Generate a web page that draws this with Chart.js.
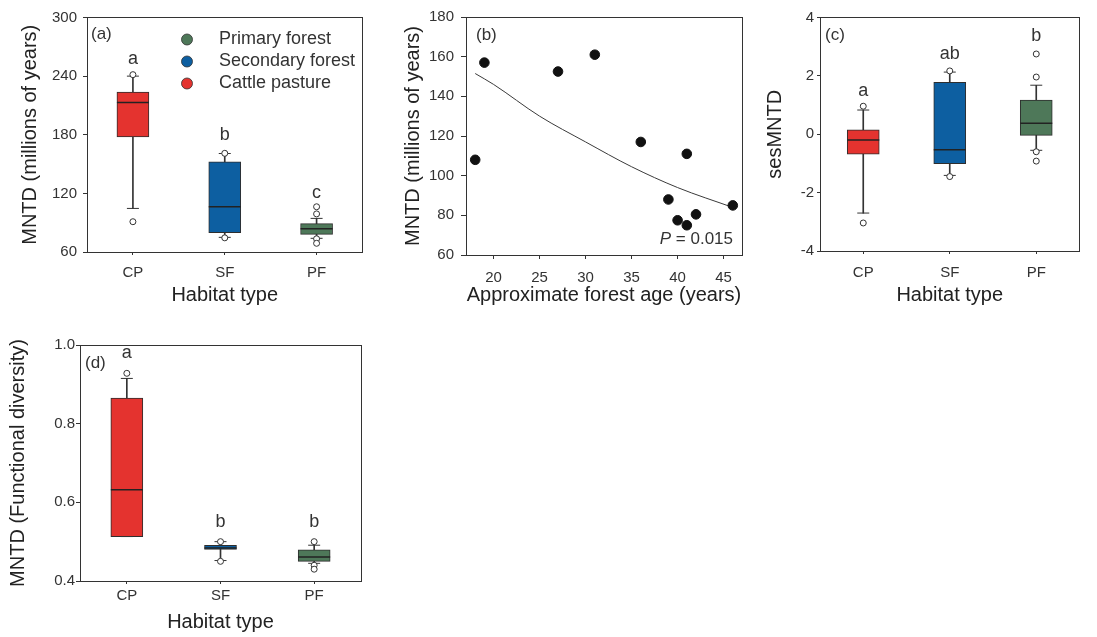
<!DOCTYPE html>
<html><head><meta charset="utf-8">
<script src="https://cdn.jsdelivr.net/npm/chart.js@4.4.0/dist/chart.umd.min.js"></script>
<style>
html,body{margin:0;padding:0;background:#fff;width:1097px;height:637px;overflow:hidden;position:relative}
canvas{position:absolute}
</style></head><body>
<canvas id="ca" width="380" height="315" style="left:0px;top:0px"></canvas>
<canvas id="cb" width="360" height="315" style="left:400px;top:0px"></canvas>
<canvas id="cc" width="337" height="315" style="left:760px;top:0px"></canvas>
<canvas id="cd" width="380" height="317" style="left:0px;top:320px"></canvas>
<script>
// ---------- shared ----------
const habitats = ['CP', 'SF', 'PF'];
const boxColors = ['#E4332F', '#0D5FA1', '#4E7859'];
const legendLabels = ['Primary forest', 'Secondary forest', 'Cattle pasture'];
const legendColors = ['#4E7859', '#0D5FA1', '#E4332F'];

// ---------- (a) MNTD (millions of years) ----------
const aLow = [104.6, 75, 74];
const aQ1 = [177.8, 79.7, 78];
const aMedian = [212.9, 106.3, 83.8];
const aQ3 = [223.7, 152.2, 89];
const aHigh = [240, 160.8, 94.4];
const aOutliers = [[91, 241.5], [161, 74.5], [106.3, 99, 73.5, 68.9]];
const aLetters = ['a', 'b', 'c'];
const aLetterY = [252.7, 174.4, 114.8];

// ---------- (b) MNTD vs forest age ----------
const bAge = [18, 19, 27, 31, 36, 39, 40, 41, 41, 42, 46];
const bMNTD = [108, 157, 152.5, 161, 117, 88, 77.5, 75, 111, 80.5, 85];
const bFitAge = [18, 20, 25, 30, 35, 40, 46];
const bFitMNTD = [151.5, 146, 130, 117, 104.5, 94, 84];
const bXTicks = [20, 25, 30, 35, 40, 45];

// ---------- (c) sesMNTD ----------
const cLow = [-2.7, -1.41, -0.55];
const cQ1 = [-0.68, -1.01, -0.04];
const cMedian = [-0.2, -0.53, 0.38];
const cQ3 = [0.15, 1.78, 1.17];
const cHigh = [0.83, 2.13, 1.68];
const cOutliers = [[0.96, -3.04], [2.17, -1.45], [2.75, 1.96, -0.6, -0.92]];
const cLetters = ['a', 'ab', 'b'];
const cLetterY = [1.32, 2.58, 3.21];

// ---------- (d) MNTD (Functional diversity) ----------
const dLow = [0.513, 0.452, 0.445];
const dQ1 = [0.513, 0.48, 0.45];
const dMedian = [0.632, 0.484, 0.461];
const dQ3 = [0.865, 0.491, 0.479];
const dHigh = [0.915, 0.5, 0.491];
const dOutliers = [[0.928], [0.5, 0.45], [0.5, 0.44, 0.43]];
const dLetters = ['a', 'b', 'b'];
const dLetterY = [0.966, 0.538, 0.538];

Chart.defaults.font.family = "'Liberation Sans', Arial, sans-serif";
Chart.defaults.color = '#333';
Chart.defaults.animation = false;

const AXIS = '#333';
const FONT = "'Liberation Sans', Arial, sans-serif";

function frameDraw(ctx, a) {
  const al = p => Math.round(p - 0.5) + 0.5;
  ctx.save();
  ctx.strokeStyle = AXIS;
  ctx.lineWidth = 1;
  const l = al(a.left), t = al(a.top), r = al(a.right), b = al(a.bottom);
  ctx.strokeRect(l, t, r - l, b - t);
  ctx.restore();
}

function panelLabel(ctx, text, x, y) {
  ctx.save();
  ctx.font = '17px ' + FONT;
  ctx.fillStyle = '#333';
  ctx.textAlign = 'left';
  ctx.textBaseline = 'middle';
  ctx.fillText(text, x, y);
  ctx.restore();
}

function boxPanel(id, d) {
  const outlierPts = [];
  d.outliers.forEach((arr, i) => arr.forEach(v => outlierPts.push({x: habitats[i], y: v})));
  const datasets = [
    {type: 'bar', data: habitats.map((_, i) => [d.low[i], d.high[i]]), backgroundColor: '#333',
     barThickness: 1, grouped: false, order: 6},
    {type: 'bar', data: habitats.map((_, i) => [d.q1[i], d.q3[i]]), backgroundColor: boxColors,
     borderColor: '#2e2e2e', borderWidth: 1, borderSkipped: false, barThickness: 32, grouped: false, order: 5},
    {type: 'line', data: d.med, showLine: false, pointStyle: 'line', pointRadius: 16, pointHoverRadius: 16,
     pointBorderColor: '#222', pointBorderWidth: 1.5, order: 4},
    {type: 'line', data: d.high, showLine: false, pointStyle: 'line', pointRadius: 6, pointHoverRadius: 6,
     pointBorderColor: '#333', pointBorderWidth: 1, order: 3},
    {type: 'line', data: d.low, showLine: false, pointStyle: 'line', pointRadius: 6, pointHoverRadius: 6,
     pointBorderColor: '#333', pointBorderWidth: 1, order: 2},
    {type: 'line', data: outlierPts, showLine: false, pointStyle: 'circle', pointRadius: 3, pointHoverRadius: 3,
     pointBackgroundColor: '#fff', pointBorderColor: '#333', pointBorderWidth: 1, order: 1}
  ];
  const plugin = {
    id: 'boxText_' + id,
    afterDraw(chart) {
      const {ctx, chartArea: a, scales} = chart;
      frameDraw(ctx, a);
      ctx.save();
      ctx.font = '18px ' + FONT;
      ctx.fillStyle = '#333';
      ctx.textAlign = 'center';
      ctx.textBaseline = 'alphabetic';
      d.letters.forEach((t, i) => {
        ctx.fillText(t, scales.x.getPixelForValue(i), scales.y.getPixelForValue(d.letterY[i]));
      });
      ctx.restore();
      panelLabel(ctx, d.panel, a.left + d.labelDx, a.top + d.labelDy);
      if (d.legend) {
        ctx.save();
        ctx.font = '18px ' + FONT;
        ctx.textBaseline = 'middle';
        ctx.textAlign = 'left';
        legendLabels.forEach((lab, i) => {
          const y = a.top + 22 + i * 22;
          ctx.beginPath();
          ctx.arc(a.left + 100, y, 5.5, 0, Math.PI * 2);
          ctx.fillStyle = legendColors[i];
          ctx.fill();
          ctx.strokeStyle = '#333';
          ctx.lineWidth = 0.8;
          ctx.stroke();
          ctx.fillStyle = '#333';
          ctx.fillText(lab, a.left + 132, y);
        });
        ctx.restore();
      }
    }
  };
  return new Chart(document.getElementById(id), {
    type: 'bar',
    data: {labels: habitats, datasets},
    options: {
      responsive: false, animation: false, devicePixelRatio: 1,
      layout: {padding: {top: d.padTop, right: d.padRight, left: 0, bottom: 0}},
      plugins: {legend: {display: false}, tooltip: {enabled: false}},
      scales: {
        x: {
          type: 'category', offset: true,
          grid: {display: true, offset: false, drawOnChartArea: false, tickLength: 3, color: AXIS},
          border: {display: true, color: AXIS, width: 1},
          ticks: {font: {size: 15}, color: '#333', padding: d.xPad},
          title: {display: true, text: 'Habitat type', font: {size: 20, lineHeight: 1}, color: '#222',
                  padding: {top: 0, bottom: d.xTitlePad}},
          afterFit(s) { s.height = d.xH; }
        },
        y: {
          type: 'linear', min: d.min, max: d.max,
          grid: {display: true, drawOnChartArea: false, tickLength: d.yTick, color: AXIS},
          border: {display: true, color: AXIS, width: 1},
          ticks: {stepSize: d.step, font: {size: 15}, color: '#333', padding: d.yPad,
                  callback: v => d.dec ? v.toFixed(d.dec) : String(v)},
          title: {display: true, text: d.yTitle, font: {size: 20, lineHeight: 1}, color: '#222',
                  padding: {top: d.yTitlePad, bottom: 0}},
          afterFit(s) { s.width = d.yW; }
        }
      }
    },
    plugins: [plugin]
  });
}

// (a)
boxPanel('ca', {
  low: aLow, q1: aQ1, med: aMedian, q3: aQ3, high: aHigh, outliers: aOutliers,
  letters: aLetters, letterY: aLetterY, min: 60, max: 300, step: 60, dec: 0,
  yTitle: 'MNTD (millions of years)', panel: '(a)', labelDx: 4, labelDy: 17, legend: true,
  padTop: 17, padRight: 17, yW: 87, xH: 63, xPad: 9, yPad: 6, yTick: 4, xTitlePad: 10, yTitlePad: 20
});

// (c)
boxPanel('cc', {
  low: cLow, q1: cQ1, med: cMedian, q3: cQ3, high: cHigh, outliers: cOutliers,
  letters: cLetters, letterY: cLetterY, min: -4, max: 4, step: 2, dec: 0,
  yTitle: 'sesMNTD', panel: '(c)', labelDx: 5, labelDy: 18, legend: false,
  padTop: 15, padRight: 3, yW: 60, xH: 64, xPad: 10, yPad: 3, yTick: 3, xTitlePad: 10, yTitlePad: 5
});

// (d)
boxPanel('cd', {
  low: dLow, q1: dQ1, med: dMedian, q3: dQ3, high: dHigh, outliers: dOutliers,
  letters: dLetters, letterY: dLetterY, min: 0.4, max: 1.0, step: 0.2, dec: 1,
  yTitle: 'MNTD (Functional diversity)', panel: '(d)', labelDx: 5, labelDy: 18, legend: false,
  padTop: 25, padRight: 19, yW: 80, xH: 56, xPad: 3, yPad: 1, yTick: 4, xTitlePad: 5, yTitlePad: 8
});

// (b)
new Chart(document.getElementById('cb'), {
  type: 'scatter',
  data: {
    datasets: [
      {type: 'line', data: bFitAge.map((x, i) => ({x, y: bFitMNTD[i]})), borderColor: '#3a3a3a', borderWidth: 1,
       pointRadius: 0, pointHoverRadius: 0, cubicInterpolationMode: 'monotone', fill: false, order: 2},
      {type: 'scatter', data: bAge.map((x, i) => ({x, y: bMNTD[i]})), pointRadius: 4.8, pointHoverRadius: 4.8,
       backgroundColor: '#111', borderColor: '#111', order: 1}
    ]
  },
  options: {
    responsive: false, animation: false, devicePixelRatio: 1,
    layout: {padding: {top: 17, right: 18, left: 0, bottom: 0}},
    plugins: {legend: {display: false}, tooltip: {enabled: false}},
    scales: {
      x: {
        type: 'linear', min: 17, max: 47,
        afterBuildTicks(s) { s.ticks = bXTicks.map(v => ({value: v})); },
        grid: {display: true, drawOnChartArea: false, tickLength: 4, color: AXIS},
        border: {display: true, color: AXIS, width: 1},
        ticks: {font: {size: 15}, color: '#333', padding: 10},
        title: {display: true, text: 'Approximate forest age (years)', font: {size: 20, lineHeight: 1}, color: '#222',
                padding: {top: 0, bottom: 10}},
        afterFit(s) { s.height = 60; }
      },
      y: {
        type: 'linear', min: 60, max: 180,
        grid: {display: true, drawOnChartArea: false, tickLength: 5, color: AXIS},
        border: {display: true, color: AXIS, width: 1},
        ticks: {stepSize: 20, font: {size: 15}, color: '#333', padding: 7},
        title: {display: true, text: 'MNTD (millions of years)', font: {size: 20, lineHeight: 1}, color: '#222',
                padding: {top: 3, bottom: 0}},
        afterFit(s) { s.width = 66; }
      }
    }
  },
  plugins: [{
    id: 'bText',
    afterDraw(chart) {
      const {ctx, chartArea: a} = chart;
      frameDraw(ctx, a);
      panelLabel(ctx, '(b)', a.left + 10, a.top + 18);
      ctx.save();
      ctx.fillStyle = '#333';
      ctx.textBaseline = 'middle';
      ctx.textAlign = 'right';
      ctx.font = '17px ' + FONT;
      const rest = ' = 0.015';
      const xr = a.right - 9, y = a.bottom - 16;
      ctx.fillText(rest, xr, y);
      const w = ctx.measureText(rest).width;
      ctx.font = 'italic 17px ' + FONT;
      ctx.fillText('P', xr - w, y);
      ctx.restore();
    }
  }]
});
</script>
</body></html>
